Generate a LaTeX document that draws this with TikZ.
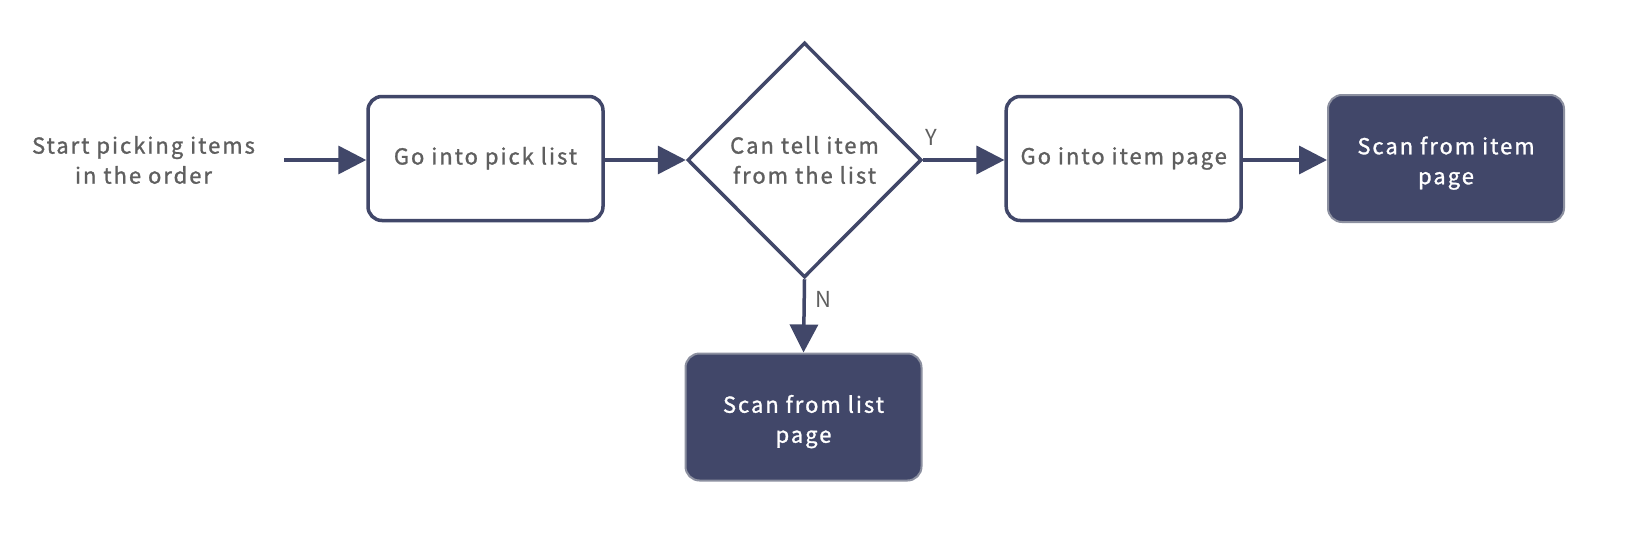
\documentclass[tikz,border=0pt]{standalone}
\usepackage{fontspec}
\setmainfont{Noto Sans CJK SC}[LetterSpace=9, FakeBold=1.2]
\newfontfamily\lblfont{Noto Sans CJK SC}
\usepackage{tikz}
\usetikzlibrary{shapes,arrows.meta,positioning}

\definecolor{navy}{HTML}{414769}
\definecolor{txtgray}{HTML}{5F5F5F}
\definecolor{edgegray}{HTML}{8C90A0}

\tikzset{
  flow/.style={draw=navy, line width=3.5pt, -{Triangle[length=28pt,width=28pt]}},
  stepbox/.style={draw=navy, line width=3.5pt, fill=white, rounded corners=14pt,
    minimum width=235pt, minimum height=124pt, align=center, text=txtgray,
    font=\fontsize{22}{30}\selectfont, text height=17pt},
  endbox/.style={draw=edgegray, line width=2pt, fill=navy, rounded corners=14pt,
    minimum width=236pt, minimum height=127pt, align=center, text=white,
    font=\fontsize{22}{30}\selectfont, text height=57pt},
  choice/.style={diamond, aspect=1, draw=navy, line width=3.5pt, fill=white, inner sep=0pt,
    minimum width=234pt, minimum height=235pt, align=center, text=txtgray,
    font=\fontsize{22}{30}\selectfont},
  yn/.style={text=txtgray, font=\lblfont\fontsize{22}{26}\selectfont}
}

\begin{document}
\begin{tikzpicture}[x=1pt, y=-1pt]
  \useasboundingbox[fill=white] (0,0) rectangle (1630,554);
  % start text and steps
  \node[align=center, text=txtgray, font=\fontsize{22}{30}\selectfont, minimum width=281pt] (start) at (143.5,160) {Start picking items\\in the order};
  \node[stepbox] (picklist) at (485.5,158.5) {Go into pick list};
  \node[choice] (tell) at (804.5,160) {Can tell item\\from the list};
  \node[stepbox] (itempage) at (1123.7,158.5) {Go into item page};
  \node[endbox] (scanitem) at (1446,158.5) {Scan from item\\page};
  \node[endbox] (scanlist) at (803.5,417) {Scan from list\\page};

  % connectors
  \draw[flow] (start.east) -- (picklist.west |- start.east);
  \draw[flow] (picklist.east |- tell.west) -- (tell.west);
  \draw[flow] (tell.east) -- (itempage.west |- tell.east);
  \draw[flow] (itempage.east |- tell.east) -- (scanitem.west |- tell.east);
  \draw[flow] (tell.south) -- (scanlist.north);

  \node[yn] (ylbl) at (931,137) {Y};
  \node[yn] (nlbl) at (823,299) {N};
\end{tikzpicture}
\end{document}
